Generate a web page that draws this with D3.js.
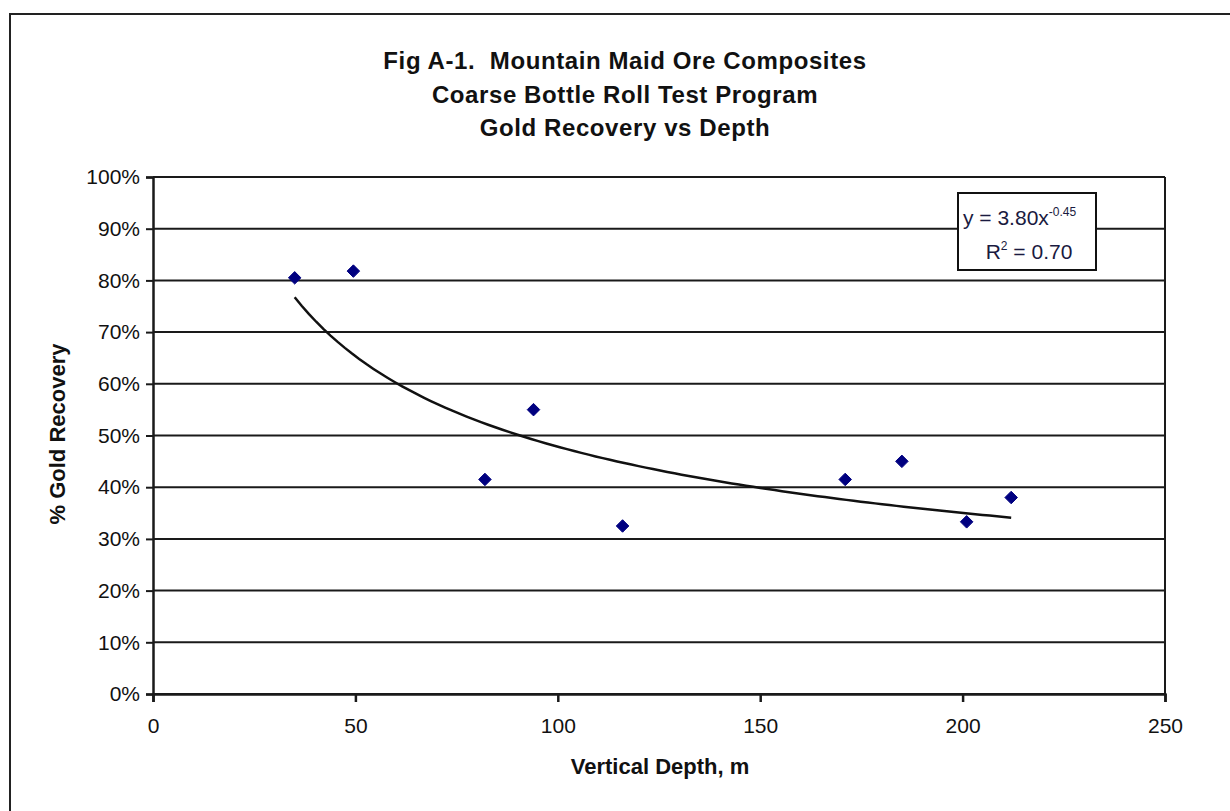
<!DOCTYPE html>
<html lang="en">
<head>
<meta charset="UTF-8">
<title>Gold Recovery vs Depth</title>
<style>
  body { margin: 0; background: #fff; }
  text { font-family: "Liberation Sans", Arial, sans-serif; fill: #111; }
</style>
</head>
<body>
<div id="chart"></div>
<script src="https://d3js.org/d3.v7.min.js"></script>
<script>
// data
const depth = [35, 49.5, 82, 94, 116, 171, 185, 201, 212];
const recovery = [0.805, 0.818, 0.415, 0.55, 0.325, 0.415, 0.45, 0.333, 0.38];
const xTicks = [0, 50, 100, 150, 200, 250];
const yTicks = [0, 0.1, 0.2, 0.3, 0.4, 0.5, 0.6, 0.7, 0.8, 0.9, 1.0];
const titleLines = ["Fig A-1.  Mountain Maid Ore Composites", "Coarse Bottle Roll Test Program", "Gold Recovery vs Depth"];
// power trendline shown on chart: y = 3.80 x^-0.45
const fitA = 3.80, fitB = -0.45;

const W = 1230, H = 811;
const margin = {top: 177, right: 65, bottom: 117, left: 153};
const width = W - margin.left - margin.right,
      height = H - margin.top - margin.bottom;

const svg = d3.select("#chart").append("svg")
  .attr("width", W).attr("height", H);

// outer frame (runs off the right and bottom edge)
svg.append("rect")
  .attr("x", 10).attr("y", 14).attr("width", 1240).attr("height", 820)
  .attr("fill", "none").attr("stroke", "#222").attr("stroke-width", 2);

// title
svg.append("g").selectAll("text")
  .data(titleLines)
  .join("text")
    .attr("x", 625)
    .attr("y", (d, i) => 69 + i * 33.5)
    .attr("text-anchor", "middle")
    .style("font-size", "24px")
    .style("font-weight", "bold")
    .style("letter-spacing", "0.6px")
    .style("white-space", "pre")
    .text(d => d);

const g = svg.append("g").attr("transform", `translate(${margin.left},${margin.top})`);

const x = d3.scaleLinear().domain([0, 250]).range([0, width]);
const y = d3.scaleLinear().domain([0, 1]).range([height, 0]);

// horizontal gridlines
g.append("g").selectAll("line")
  .data(yTicks)
  .join("line")
    .attr("x1", 0).attr("x2", width)
    .attr("y1", d => y(d)).attr("y2", d => y(d))
    .attr("stroke", "#1a1a1a").attr("stroke-width", 2);

// plot border (right side)
g.append("line")
  .attr("x1", width).attr("x2", width).attr("y1", 0).attr("y2", height)
  .attr("stroke", "#1a1a1a").attr("stroke-width", 2);

// y axis
const yAxis = g.append("g")
  .call(d3.axisLeft(y).tickValues(yTicks).tickFormat(d3.format(".0%")).tickSize(7).tickPadding(6));
yAxis.select(".domain").attr("stroke", "#1a1a1a").attr("stroke-width", 2.5);
yAxis.selectAll(".tick line").attr("stroke", "#1a1a1a").attr("stroke-width", 2);
yAxis.selectAll("text")
  .style("font-size", "21px")
  .style("font-family", "'Liberation Sans', Arial, sans-serif")
  .style("fill", "#111");

// x axis
const xAxis = g.append("g")
  .attr("transform", `translate(0,${height})`)
  .call(d3.axisBottom(x).tickValues(xTicks).tickSize(8).tickPadding(16));
xAxis.select(".domain").attr("stroke", "#1a1a1a").attr("stroke-width", 2.5);
xAxis.selectAll(".tick line").attr("stroke", "#1a1a1a").attr("stroke-width", 2.5);
xAxis.selectAll("text")
  .style("font-size", "21px")
  .style("font-family", "'Liberation Sans', Arial, sans-serif")
  .style("fill", "#111");

// axis titles
svg.append("text")
  .attr("x", 660).attr("y", 774)
  .attr("text-anchor", "middle")
  .style("font-size", "22px").style("font-weight", "bold")
  .text("Vertical Depth, m");

svg.append("text")
  .attr("transform", "translate(65,434) rotate(-90)")
  .attr("text-anchor", "middle")
  .style("font-size", "22px").style("font-weight", "bold")
  .text("% Gold Recovery");

// trendline, evaluated along the data range
const xMin = d3.min(depth), xMax = d3.max(depth);
const curve = d3.range(0, 101).map(i => {
  const xv = xMin + (xMax - xMin) * i / 100;
  return [xv, fitA * Math.pow(xv, fitB)];
});
g.append("path")
  .datum(curve)
  .attr("fill", "none")
  .attr("stroke", "#111")
  .attr("stroke-width", 2.5)
  .attr("d", d3.line().x(d => x(d[0])).y(d => y(d[1])));

// markers
const pts = depth.map((d, i) => ({x: d, y: recovery[i]}));
g.append("g").selectAll("path")
  .data(pts)
  .join("path")
    .attr("transform", d => `translate(${x(d.x)},${y(d.y)})`)
    .attr("d", d3.symbol(d3.symbolDiamond2, 100))
    .attr("fill", "#000080")
    .attr("stroke", "#000080")
    .attr("stroke-width", 1);

// equation label
const lbl = svg.append("g");
lbl.append("rect")
  .attr("x", 958).attr("y", 193).attr("width", 138).attr("height", 77)
  .attr("fill", "#fff").attr("stroke", "#111").attr("stroke-width", 2);
const eq = lbl.append("text")
  .attr("x", 963).attr("y", 225)
  .style("font-size", "21px").style("fill", "#1a1a40");
eq.append("tspan").text("y = 3.80x");
eq.append("tspan").attr("dy", -9).style("font-size", "12px").text("-0.45");
const r2 = lbl.append("text")
  .attr("x", 1029).attr("y", 259)
  .attr("text-anchor", "middle")
  .style("font-size", "21px").style("fill", "#1a1a40");
r2.append("tspan").text("R");
r2.append("tspan").attr("dy", -9).style("font-size", "12px").text("2");
r2.append("tspan").attr("dy", 9).text(" = 0.70");
</script>
</body>
</html>
